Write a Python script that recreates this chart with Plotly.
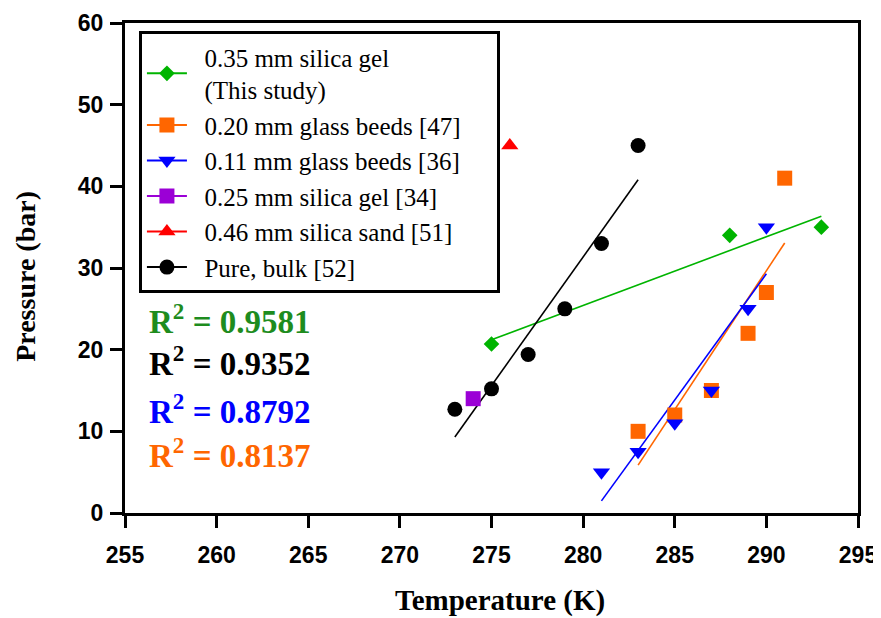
import numpy as np
import plotly.graph_objects as go

# ---- data ----
green_T = [275, 288, 293]
green_P = [20.7, 34, 35]

orange_T = [283, 285, 287, 289, 290, 291]
orange_P = [10, 12, 15, 22, 27, 41]

blue_T = [281, 283, 285, 287, 289, 290]
blue_P = [5, 7.5, 11, 15, 25, 35]

purple_T = [274]
purple_P = [14]

red_T = [276]
red_P = [45]

black_T = [273, 275, 277, 279, 281, 283]
black_P = [12.7, 15.2, 19.4, 25, 33, 45]

legend_names = [
    "0.35 mm silica gel<br>(This study)",
    "0.20 mm glass beeds [47]",
    "0.11 mm glass beeds [36]",
    "0.25 mm silica gel [34]",
    "0.46 mm silica sand [51]",
    "Pure, bulk [52]",
]
r2_labels = ["0.9581", "0.9352", "0.8792", "0.8137"]

x_ticks = [255, 260, 265, 270, 275, 280, 285, 290, 295]
y_ticks = [0, 10, 20, 30, 40, 50, 60]

GREEN = "#00B400"
ORANGE = "#FF6600"
BLUE = "#0000FF"
PURPLE = "#9B00D6"
RED = "#FF0000"
BLACK = "#000000"

series = [
    (green_T, green_P, GREEN, "diamond", 12),
    (orange_T, orange_P, ORANGE, "square", 15),
    (blue_T, blue_P, BLUE, "triangle-down", 15),
    (purple_T, purple_P, PURPLE, "square", 15),
    (red_T, red_P, RED, "triangle-up", 15),
    (black_T, black_P, BLACK, "circle", 15),
]

fig = go.Figure()

# regression lines (least squares fit of each series)
for (T, P, col, sym, sz), fit in zip(series, [True, True, True, False, False, True]):
    if not fit:
        continue
    k, b = np.polyfit(T, P, 1)
    xs = [min(T), max(T)]
    fig.add_trace(go.Scatter(x=xs, y=[k * v + b for v in xs], mode="lines",
                             line=dict(color=col, width=1.6), showlegend=False,
                             hoverinfo="skip"))

# data markers
for T, P, col, sym, sz in series:
    fig.add_trace(go.Scatter(x=T, y=P, mode="markers",
                             marker=dict(color=col, symbol=sym, size=sz, line=dict(width=0)),
                             showlegend=False))

# legend entries (line + marker)
PAD = "\u00a0\u00a0"
TAIL = "\u00a0" * 5
for name, (T, P, col, sym, sz) in zip(legend_names, series):
    label = "<br>".join(PAD + part + TAIL for part in name.split("<br>"))
    fig.add_trace(go.Scatter(x=[None], y=[None], mode="lines+markers", name=label,
                             line=dict(color=col, width=2),
                             marker=dict(color=col, symbol=sym, size=sz)))

r2_colors = ["#1E8C1E", BLACK, BLUE, ORANGE]
r2_y = [23.8, 18.6, 12.7, 7.4]
for lab, col, yy in zip(r2_labels, r2_colors, r2_y):
    fig.add_annotation(x=256.2, y=yy, xref="x", yref="y", xanchor="left", yanchor="middle",
                       text="<b>R<sup>2</sup> = " + lab + "</b>", showarrow=False,
                       font=dict(family="Liberation Serif", size=33, color=col))

# axis titles
fig.add_annotation(x=0.5116, y=-0.178, xref="paper", yref="paper", xanchor="center",
                   yanchor="middle", showarrow=False, text="<b>Temperature (K)</b>",
                   font=dict(family="Liberation Serif", size=29, color="black"))
fig.add_annotation(x=-0.135, y=0.482, xref="paper", yref="paper", xanchor="center",
                   yanchor="middle", showarrow=False, text="<b>Pressure (bar)</b>",
                   textangle=-90,
                   font=dict(family="Liberation Serif", size=28, color="black"))

axis_common = dict(showline=True, linecolor="black", linewidth=3, mirror=True,
                   ticks="outside", ticklen=12, tickwidth=3, tickcolor="black",
                   showgrid=False, zeroline=False, automargin=False,
                   tickfont=dict(family="Liberation Sans", size=23, color="black", weight="bold"))

fig.update_layout(
    width=881, height=618,
    margin=dict(l=117, r=31, t=15, b=113),
    paper_bgcolor="white", plot_bgcolor="white",
    xaxis=dict(range=[255, 295], tickvals=x_ticks, ticklabelstandoff=7, **axis_common),
    yaxis=dict(range=[0, 60], tickvals=y_ticks, ticklabelstandoff=2, **axis_common),
    legend=dict(x=0.019, y=0.983, xanchor="left", yanchor="top",
                bgcolor="white", bordercolor="black", borderwidth=3,
                font=dict(family="Liberation Serif", size=25, color="black"),
                itemwidth=40, tracegroupgap=0),
    showlegend=True,
)

fig.write_html("out.html")
